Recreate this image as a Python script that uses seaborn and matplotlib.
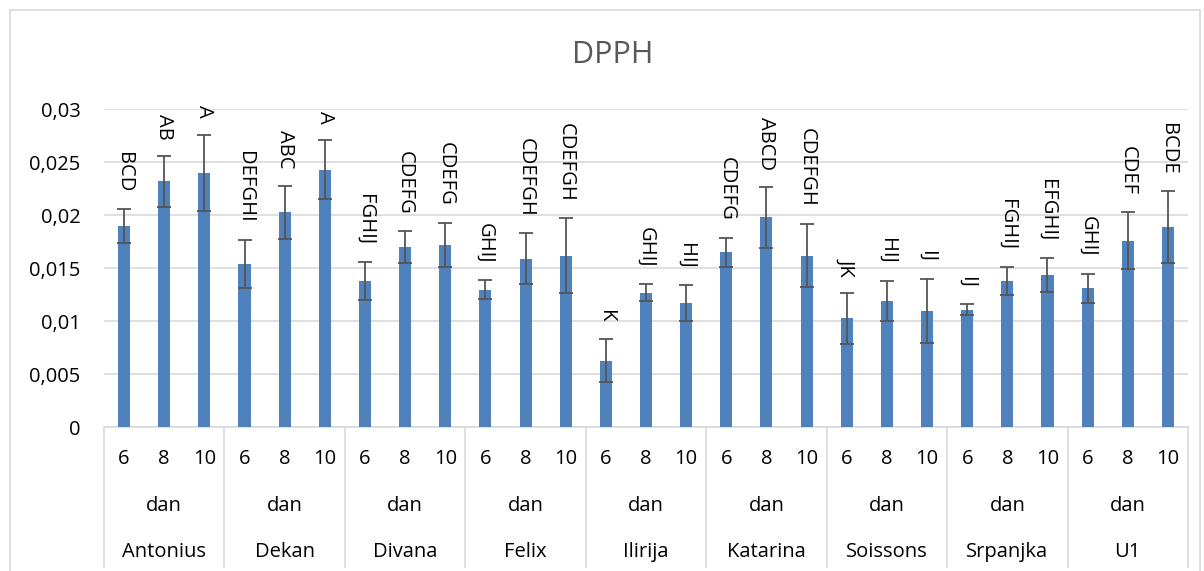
import matplotlib
matplotlib.use("Agg")
import matplotlib.pyplot as plt
import matplotlib.transforms as mtransforms
from matplotlib.lines import Line2D
from matplotlib.patches import Rectangle
import numpy as np
import pandas as pd
import seaborn as sns

# ---- data ----
cultivars = ["Antonius", "Dekan", "Divana", "Felix", "Ilirija",
             "Katarina", "Soissons", "Srpanjka", "U1"]
days = ["6", "8", "10"]
day_unit = "dan"
values = [0.0190, 0.0232, 0.0240,
          0.0154, 0.0203, 0.0243,
          0.0138, 0.0170, 0.0172,
          0.0130, 0.0159, 0.0162,
          0.0063, 0.0127, 0.0117,
          0.0165, 0.0198, 0.0162,
          0.0103, 0.0119, 0.0110,
          0.0111, 0.0138, 0.0144,
          0.0131, 0.0176, 0.0189]
errors = [0.0016, 0.0024, 0.0036,
          0.0023, 0.0025, 0.0028,
          0.0018, 0.0015, 0.0021,
          0.0009, 0.0024, 0.0035,
          0.0020, 0.0008, 0.0017,
          0.0014, 0.0029, 0.0030,
          0.0024, 0.0019, 0.0030,
          0.0005, 0.0013, 0.0016,
          0.0014, 0.0027, 0.0034]
letters = ["BCD", "AB", "A",
           "DEFGHI", "ABC", "A",
           "FGHIJ", "CDEFG", "CDEFG",
           "GHIJ", "CDEFGH", "CDEFGH",
           "K", "GHIJ", "HIJ",
           "CDEFG", "ABCD", "CDEFGH",
           "JK", "HIJ", "IJ",
           "IJ", "FGHIJ", "EFGHIJ",
           "GHIJ", "CDEF", "BCDE"]
yticks = [0, 0.005, 0.01, 0.015, 0.02, 0.025, 0.03]
ytick_labels = ["0", "0,005", "0,01", "0,015", "0,02", "0,025", "0,03"]
title = "DPPH"

# ---- styling ----
plt.rcParams["font.family"] = ["Open Sans", "DejaVu Sans"]
FS = 14.5
BAR = "#4F81BD"
GRID = "#D9D9D9"

df = pd.DataFrame({
    "key": [f"{c}|{d}" for c in cultivars for d in days],
    "value": values,
})

fig = plt.figure(figsize=(12.04, 5.71), dpi=100)
ax = fig.add_axes([104 / 1204, (571 - 427.3) / 571,
                   (1188 - 104) / 1204, (427.3 - 109.3) / 571])

sns.barplot(data=df, x="key", y="value", color=BAR, width=0.3,
            errorbar=None, ax=ax, zorder=3, saturation=1)

centers = [p.get_x() + p.get_width() / 2 for p in ax.patches]
ax.errorbar(centers, values, yerr=errors, fmt="none", ecolor="#555555",
            elinewidth=1.3, capsize=5, capthick=1.3, zorder=4)

for x, v, e, lab in zip(centers, values, errors, letters):
    ax.annotate(lab, (x, v + e), xytext=(0, 12), textcoords="offset points",
                rotation=-90, ha="center", va="bottom", fontsize=FS,
                color="black", zorder=5)

n = len(values)
ax.set_xlim(-0.5, n - 0.5)
ax.set_ylim(0, 0.03)
ax.set_yticks(yticks)
ax.set_yticklabels(ytick_labels, fontsize=FS, color="black")
ax.tick_params(axis="y", length=0, pad=17)
ax.set_xticks([])
ax.set_xlabel("")
ax.set_ylabel("")
ax.grid(axis="y", color=GRID, linewidth=1.2, zorder=0)
ax.set_axisbelow(True)
for s in ["left", "right", "top"]:
    ax.spines[s].set_visible(False)
ax.spines["bottom"].set_color(GRID)
ax.spines["bottom"].set_linewidth(1.2)

trans = mtransforms.blended_transform_factory(ax.transData, ax.transAxes)
ng = len(cultivars)
nd = len(days)
for gi, cname in enumerate(cultivars):
    for di, d in enumerate(days):
        xi = gi * nd + di
        ax.text(xi, -0.0997, d, transform=trans, ha="center", va="center",
                fontsize=FS, color="black")
    gc = gi * nd + (nd - 1) / 2
    ax.text(gc, -0.2475, day_unit, transform=trans, ha="center",
            va="center", fontsize=FS, color="black")
    ax.text(gc, -0.391, cname, transform=trans, ha="center", va="center",
            fontsize=FS, color="black")
for b in range(ng + 1):
    xb = b * nd - 0.5
    ax.add_line(Line2D([xb, xb], [0, -0.438], transform=trans, color=GRID,
                       linewidth=1.2, clip_on=False))

fig.text(613 / 1204, (571 - 55) / 571, title, ha="center", va="center",
         fontsize=22, color="#595959")

fig.patches.append(Rectangle((10 / 1204, -0.05), 1190 / 1204,
                             (561 / 571) + 0.05, transform=fig.transFigure,
                             fill=False, edgecolor=GRID, linewidth=1.2))

fig.savefig("out.png", dpi=100)
